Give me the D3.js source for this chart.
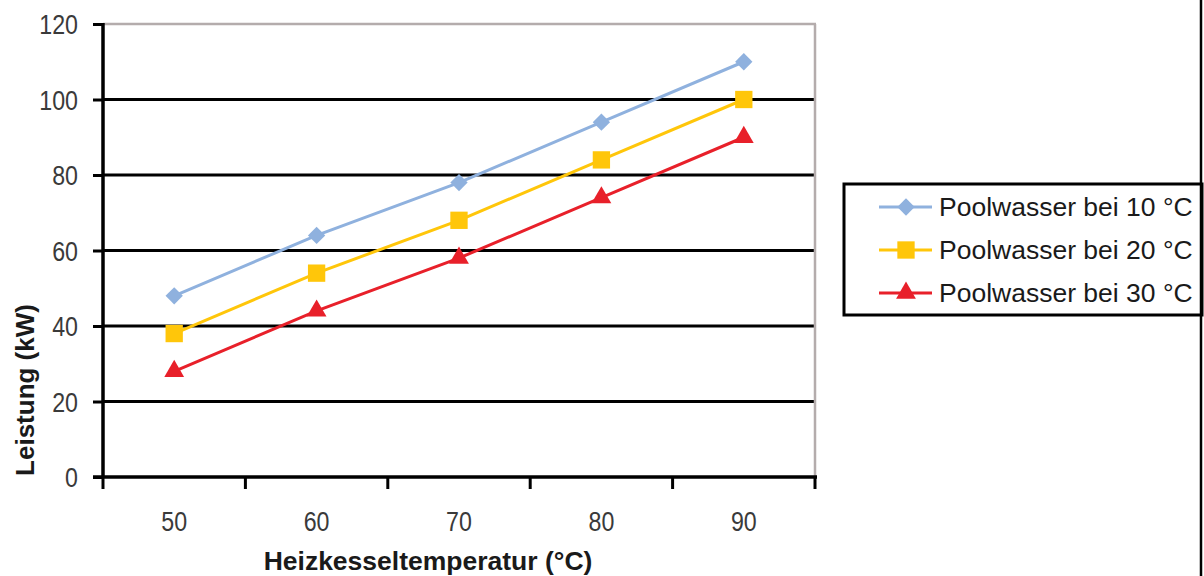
<!DOCTYPE html>
<html><head><meta charset="utf-8">
<script src="https://cdn.jsdelivr.net/npm/d3@7"></script>
<style>
html,body{margin:0;padding:0;background:#fff;}
svg{display:block;}
</style></head>
<body>
<svg id="chart" width="1204" height="576"></svg>
<script>
const categories = ["50", "60", "70", "80", "90"];
const yTicks = [0, 20, 40, 60, 80, 100, 120];
const seriesNames = ["Poolwasser bei 10 °C", "Poolwasser bei 20 °C", "Poolwasser bei 30 °C"];
const values10 = [48, 64, 78, 94, 110];
const values20 = [38, 54, 68, 84, 100];
const values30 = [28, 44, 58, 74, 90];
const xTitle = "Heizkesseltemperatur (°C)";
const yTitle = "Leistung (kW)";

const series = [
  {name: seriesNames[0], values: values10, color: "#8fb1de", symbol: d3.symbolSquare, size: 150, rot: 45},
  {name: seriesNames[1], values: values20, color: "#ffc60a", symbol: d3.symbolSquare, size: 300, rot: 0},
  {name: seriesNames[2], values: values30, color: "#e8202a", symbol: d3.symbolTriangle, size: 170, rot: 0}
];

const svg = d3.select("#chart");
const L = 103, R = 815, T = 24, B = 477;
const x = d3.scaleBand().domain(categories).range([L, R]);
const y = d3.scaleLinear().domain([0, 120]).range([B, T]);
const font = "'Liberation Sans',Arial,sans-serif";

// gridlines
svg.append("g").selectAll("line").data(yTicks.filter(v => v > 0 && v < 120)).join("line")
  .attr("x1", L).attr("x2", R).attr("y1", d => y(d)).attr("y2", d => y(d))
  .attr("stroke", "#000").attr("stroke-width", 3);
// top and right border (gray)
svg.append("line").attr("x1", L).attr("x2", R + 1).attr("y1", y(120)).attr("y2", y(120))
  .attr("stroke", "#b4acac").attr("stroke-width", 2.5);
svg.append("line").attr("x1", R).attr("x2", R).attr("y1", y(120)).attr("y2", B)
  .attr("stroke", "#b4acac").attr("stroke-width", 2.5);

// y axis
const yAxis = svg.append("g").attr("transform", `translate(${L},0)`)
  .call(d3.axisLeft(y).tickValues(yTicks).tickSize(10).tickPadding(0));
yAxis.select(".domain").attr("stroke", "#000").attr("stroke-width", 3.5)
  .attr("d", `M0,${T - 1}V${B + 1}`);
yAxis.selectAll(".tick line").attr("stroke", "#000").attr("stroke-width", 3);
yAxis.selectAll(".tick text").attr("font-family", font).attr("font-size", 27)
  .attr("fill", "#3a3a3a").attr("x", 0).attr("dy", "0.36em")
  .attr("transform", "translate(-25,0) scale(0.86,1)");

// x axis labels
const xAxis = svg.append("g").attr("transform", `translate(0,${B})`)
  .call(d3.axisBottom(x).tickSize(0).tickPadding(0));
xAxis.select(".domain").remove();
xAxis.selectAll(".tick text").attr("font-family", font).attr("font-size", 27)
  .attr("fill", "#3a3a3a").attr("y", 0).attr("dy", 0)
  .attr("transform", "translate(0,54) scale(0.86,1)");
// x axis line and boundary ticks
svg.append("line").attr("x1", L - 10).attr("x2", R + 2).attr("y1", B).attr("y2", B)
  .attr("stroke", "#000").attr("stroke-width", 3.5);
const bounds = categories.map(c => x(c)).concat([x(categories[categories.length - 1]) + x.bandwidth()]);
svg.append("g").selectAll("line").data(bounds).join("line")
  .attr("x1", d => d).attr("x2", d => d).attr("y1", B).attr("y2", B + 12)
  .attr("stroke", "#000").attr("stroke-width", 3);

// series lines and markers
const cx = c => x(c) + x.bandwidth() / 2;
const line = d3.line().x(d => cx(d.c)).y(d => y(d.v));
series.forEach(s => {
  const pts = categories.map((c, i) => ({c, v: s.values[i]}));
  svg.append("path").datum(pts).attr("d", line).attr("fill", "none")
    .attr("stroke", s.color).attr("stroke-width", 3);
  svg.append("g").selectAll("path").data(pts).join("path")
    .attr("d", d3.symbol(s.symbol, s.size))
    .attr("transform", d => `translate(${cx(d.c)},${y(d.v)}) rotate(${s.rot})`)
    .attr("fill", s.color);
});

// axis titles
svg.append("text").attr("x", 428).attr("y", 570).attr("text-anchor", "middle")
  .attr("font-family", font).attr("font-weight", "bold")
  .attr("font-size", 26.5).attr("fill", "#1a1a1a").text(xTitle);
svg.append("text").attr("transform", "translate(34,390) rotate(-90)").attr("text-anchor", "middle")
  .attr("font-family", font).attr("font-weight", "bold")
  .attr("font-size", 26).attr("fill", "#1a1a1a").text(yTitle);

// legend
svg.append("rect").attr("x", 844).attr("y", 184).attr("width", 358).attr("height", 131)
  .attr("fill", "#fff").attr("stroke", "#000").attr("stroke-width", 3);
const lg = svg.append("g").selectAll("g").data(series).join("g")
  .attr("transform", (d, i) => `translate(0,${207 + i * 43})`);
lg.append("line").attr("x1", 879).attr("x2", 932).attr("y1", 0).attr("y2", 0)
  .attr("stroke", d => d.color).attr("stroke-width", 3);
lg.append("path").attr("d", d => d3.symbol(d.symbol, d.size)())
  .attr("transform", d => `translate(906,0) rotate(${d.rot})`).attr("fill", d => d.color);
lg.append("text").attr("x", 939).attr("y", 0).attr("dy", "0.35em")
  .attr("font-family", font).attr("font-size", 26.5)
  .attr("fill", "#1a1a1a").text(d => d.name);

// outer right border
svg.append("line").attr("x1", 1201).attr("x2", 1201).attr("y1", 0).attr("y2", 576)
  .attr("stroke", "#000").attr("stroke-width", 2.5);
</script>
</body></html>
